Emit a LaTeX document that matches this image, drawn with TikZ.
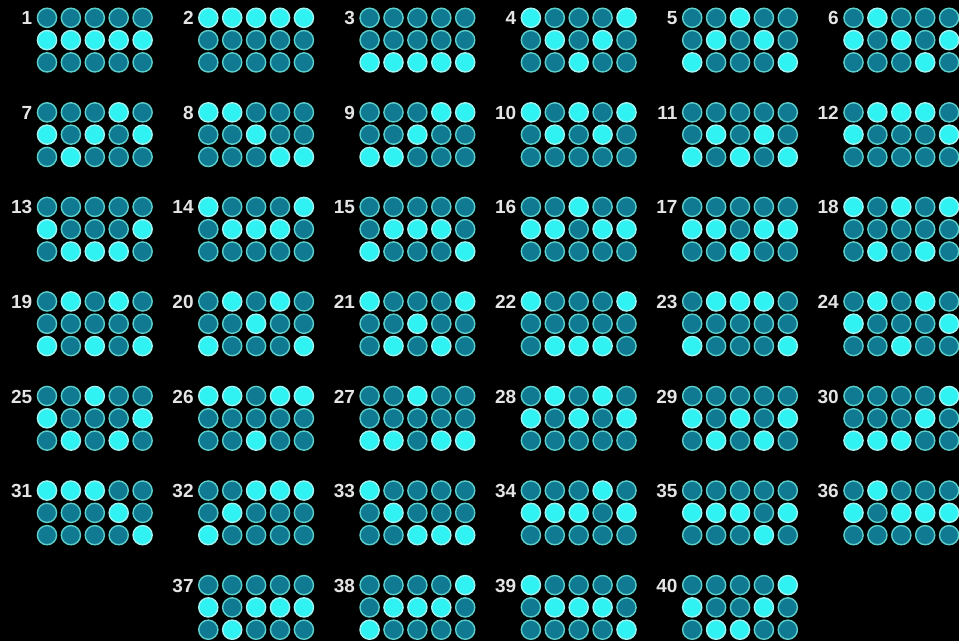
\documentclass[tikz,border=0pt]{standalone}
\usepackage{fontspec}
\setmainfont{Liberation Sans}
\definecolor{litfill}{HTML}{30F2F2}
\definecolor{litring}{HTML}{A0F4F0}
\definecolor{dimfill}{HTML}{117A93}
\definecolor{dimring}{HTML}{5CCFCB}
\definecolor{numcol}{HTML}{E4E4E4}
\tikzset{
  cell/.style={circle, inner sep=0pt, minimum size=19.2pt, line width=1.4pt},
  lit/.style={cell, fill=litfill, draw=litring},
  dim/.style={cell, fill=dimfill, draw=dimring},
  numlabel/.style={anchor=base east, inner sep=0pt, text=numcol, font=\fontsize{19}{19}\selectfont\bfseries}
}
\begin{document}
\begin{tikzpicture}[x=1pt,y=-1pt]
\useasboundingbox (0,0) rectangle (959,641);
\fill[black] (0,0) rectangle (959,641);
\foreach \n/\gc/\gr/\pa/\pb/\pc/\pd/\pe in {
  1/0/0/2/2/2/2/2, 2/1/0/1/1/1/1/1, 3/2/0/3/3/3/3/3, 4/3/0/1/2/3/2/1, 5/4/0/3/2/1/2/3, 6/5/0/2/1/2/3/2,
  7/0/1/2/3/2/1/2, 8/1/1/1/1/2/3/3, 9/2/1/3/3/2/1/1, 10/3/1/1/2/1/2/1, 11/4/1/3/2/3/2/3, 12/5/1/2/1/1/1/2,
  13/0/2/2/3/3/3/2, 14/1/2/1/2/2/2/1, 15/2/2/3/2/2/2/3, 16/3/2/2/2/1/2/2, 17/4/2/2/2/3/2/2, 18/5/2/1/3/1/3/1,
  19/0/3/3/1/3/1/3, 20/1/3/3/1/2/1/3, 21/2/3/1/3/2/3/1, 22/3/3/1/3/3/3/1, 23/4/3/3/1/1/1/3, 24/5/3/2/1/3/1/2,
  25/0/4/2/3/1/3/2, 26/1/4/1/1/3/1/1, 27/2/4/3/3/1/3/3, 28/3/4/2/1/2/1/2, 29/4/4/2/3/2/3/2, 30/5/4/3/3/3/2/1,
  31/0/5/1/1/1/2/3, 32/1/5/3/2/1/1/1, 33/2/5/1/2/3/3/3, 34/3/5/2/2/2/1/2, 35/4/5/2/2/2/3/2, 36/5/5/2/1/2/2/2,
  37/1/6/2/3/2/2/2, 38/2/6/3/2/2/2/1, 39/3/6/1/2/2/2/3, 40/4/6/2/3/3/2/1}{
  \pgfmathsetmacro\X{47+161.3*\gc}
  \pgfmathsetmacro\Y{17.8+94.55*\gr}
  \node[numlabel] (n\n) at (\X-14.5,\Y+7) {\n};
  \foreach \col/\act in {1/\pa,2/\pb,3/\pc,4/\pd,5/\pe}{
    \foreach \r in {1,2,3}{
      \def\st{dim}\ifnum\r=\act\relax\def\st{lit}\fi
      \pgfmathsetmacro\cx{\X+23.9*(\col-1)}
      \pgfmathsetmacro\cy{\Y+22.3*(\r-1)}
      \node[\st] (p\n-\r-\col) at (\cx,\cy) {};
    }
  }
}
\end{tikzpicture}
\end{document}
